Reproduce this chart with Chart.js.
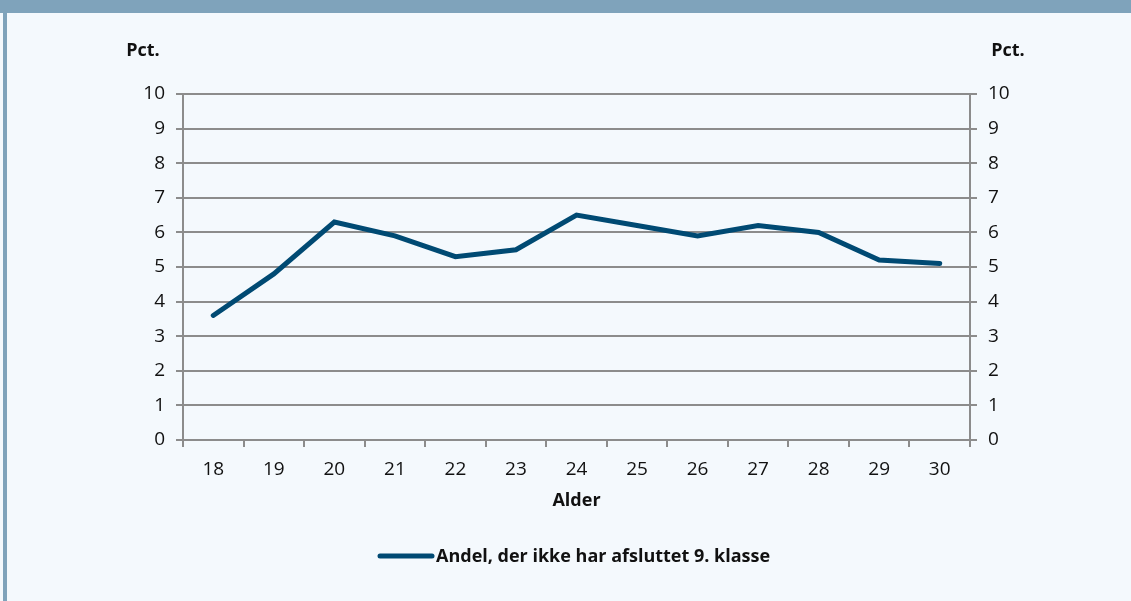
<!DOCTYPE html>
<html>
<head>
<meta charset="utf-8">
<script src="https://cdn.jsdelivr.net/npm/chart.js@4"></script>
<style>
  html, body { margin: 0; padding: 0; }
  body { width: 1131px; height: 601px; background: #f4f9fd; position: relative; overflow: hidden; }
  #topband { position: absolute; left: 0; top: 0; width: 1131px; height: 13px; background: #7fa3bb; }
  #leftband { position: absolute; left: 3px; top: 0; width: 4px; height: 601px; background: #7fa3bb; }
  #chart { position: absolute; left: 0; top: 0; }
</style>
</head>
<body>
<div id="topband"></div>
<div id="leftband"></div>
<canvas id="chart" width="1131" height="601"></canvas>
<script>
const ages = ['18', '19', '20', '21', '22', '23', '24', '25', '26', '27', '28', '29', '30'];
const shareNoPrimary = [3.6, 4.8, 6.3, 5.9, 5.3, 5.5, 6.5, 6.2, 5.9, 6.2, 6.0, 5.2, 5.1];
const seriesLabel = 'Andel, der ikke har afsluttet 9. klasse';
const yUnit = 'Pct.';
const xTitle = 'Alder';

const FONT = '"Open Sans", sans-serif';
const GRID = '#8c8c8c';
const LINE = '#004a73';

// titles and legend drawn by hand so they sit where the original puts them
const extras = {
    id: 'extras',
    afterDraw(chart) {
        const c = chart.ctx;
        const area = chart.chartArea;
        c.save();
        c.fillStyle = '#111';
        c.font = 'bold 18px ' + FONT;
        c.textBaseline = 'middle';
        c.textAlign = 'center';
        c.fillText(yUnit, 143, 51);
        c.fillText(yUnit, 1008, 51);
        c.fillText(xTitle, (area.left + area.right) / 2, 501);

        // legend
        c.strokeStyle = LINE;
        c.lineWidth = 5;
        c.lineCap = 'round';
        c.beginPath();
        c.moveTo(380, 556);
        c.lineTo(432, 556);
        c.stroke();
        c.textAlign = 'left';
        c.fillText(seriesLabel, 436, 557);
        c.restore();
    }
};

const yTicks = { color: '#111', font: { family: FONT, size: 19 }, stepSize: 1, padding: 11 };

new Chart(document.getElementById('chart').getContext('2d'), {
    type: 'line',
    data: {
        labels: ages,
        datasets: [{
            label: seriesLabel,
            data: shareNoPrimary,
            borderColor: LINE,
            backgroundColor: LINE,
            borderWidth: 5,
            pointRadius: 0,
            tension: 0,
            borderCapStyle: 'round',
            yAxisID: 'y'
        }]
    },
    options: {
        responsive: false,
        animation: false,
        layout: { padding: { top: 94, left: 0, right: 0, bottom: 0 } },
        plugins: { legend: { display: false }, tooltip: { enabled: false } },
        scales: {
            x: {
                offset: true,
                grid: { offset: true, drawOnChartArea: false, color: GRID, lineWidth: 2, tickLength: 7 },
                border: { color: GRID, width: 2 },
                ticks: { color: '#111', font: { family: FONT, size: 19 }, padding: 11 },
                afterFit(s) { s.height = 161; }
            },
            y: {
                position: 'left',
                min: 0, max: 10,
                ticks: yTicks,
                grid: { color: GRID, lineWidth: 2, tickLength: 7 },
                border: { color: GRID, width: 2 },
                afterFit(s) { s.width = 183; }
            },
            y1: {
                position: 'right',
                min: 0, max: 10,
                ticks: yTicks,
                grid: { drawOnChartArea: false, color: GRID, lineWidth: 2, tickLength: 7 },
                border: { color: GRID, width: 2 },
                afterFit(s) { s.width = 161; }
            }
        }
    },
    plugins: [extras]
});
</script>
</body>
</html>
